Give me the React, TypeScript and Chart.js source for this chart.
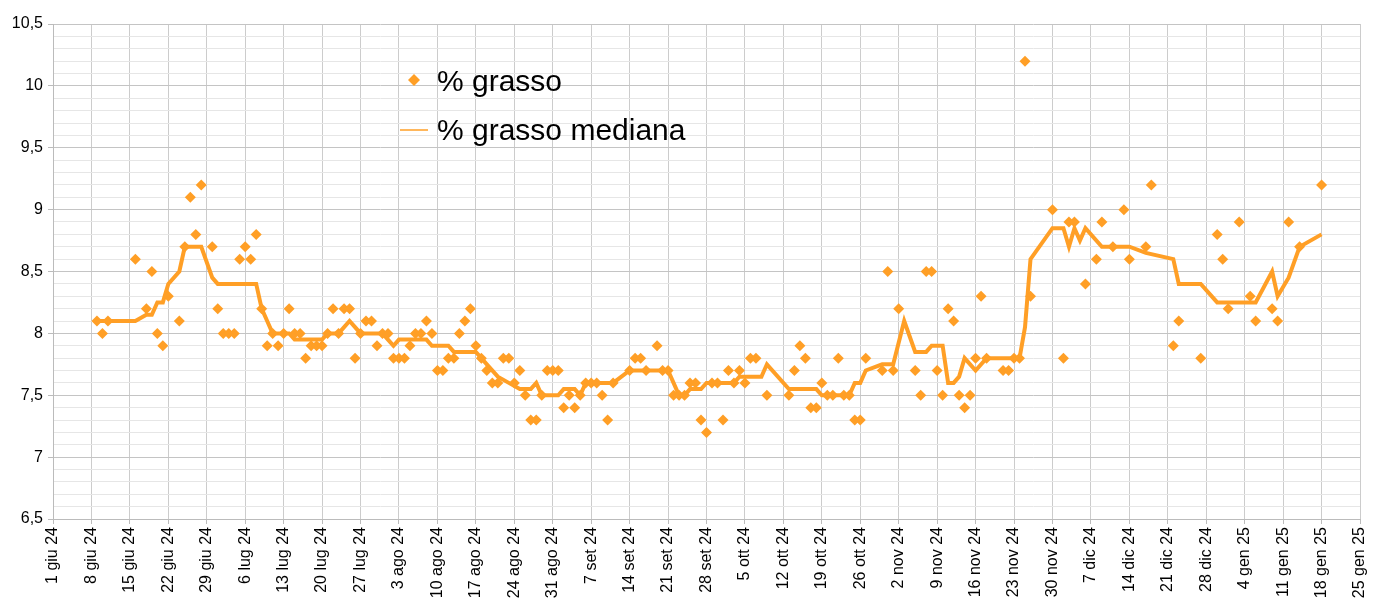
import React, { useEffect, useRef } from 'react';
import { Chart, registerables } from 'chart.js';

Chart.register(...registerables);

// ---- data ----
const startDate = '2024-06-01';
const endDate = '2025-01-25';
const monthLabels = ['gen', 'feb', 'mar', 'apr', 'mag', 'giu', 'lug', 'ago', 'set', 'ott', 'nov', 'dic'];
const seriesLabels = ['% grasso', '% grasso mediana'];

const pointDates = [
  '2024-06-09', '2024-06-10', '2024-06-11', '2024-06-16', '2024-06-18', '2024-06-19', '2024-06-20', '2024-06-21',
  '2024-06-22', '2024-06-24', '2024-06-25', '2024-06-26', '2024-06-27', '2024-06-28', '2024-06-30', '2024-07-01',
  '2024-07-02', '2024-07-03', '2024-07-04', '2024-07-05', '2024-07-06', '2024-07-07', '2024-07-08', '2024-07-09',
  '2024-07-10', '2024-07-11', '2024-07-12', '2024-07-13', '2024-07-14', '2024-07-15', '2024-07-16', '2024-07-17',
  '2024-07-18', '2024-07-19', '2024-07-20', '2024-07-21', '2024-07-22', '2024-07-23', '2024-07-24', '2024-07-25',
  '2024-07-26', '2024-07-27', '2024-07-28', '2024-07-29', '2024-07-30', '2024-07-31', '2024-08-01', '2024-08-02',
  '2024-08-03', '2024-08-04', '2024-08-05', '2024-08-06', '2024-08-07', '2024-08-08', '2024-08-09', '2024-08-10',
  '2024-08-11', '2024-08-12', '2024-08-13', '2024-08-14', '2024-08-15', '2024-08-16', '2024-08-17', '2024-08-18',
  '2024-08-19', '2024-08-20', '2024-08-21', '2024-08-22', '2024-08-23', '2024-08-24', '2024-08-25', '2024-08-26',
  '2024-08-27', '2024-08-28', '2024-08-29', '2024-08-30', '2024-08-31', '2024-09-01', '2024-09-02', '2024-09-03',
  '2024-09-04', '2024-09-05', '2024-09-06', '2024-09-07', '2024-09-08', '2024-09-09', '2024-09-10', '2024-09-11',
  '2024-09-14', '2024-09-15', '2024-09-16', '2024-09-17', '2024-09-19', '2024-09-20', '2024-09-21', '2024-09-22',
  '2024-09-23', '2024-09-24', '2024-09-25', '2024-09-26', '2024-09-27', '2024-09-28', '2024-09-29', '2024-09-30',
  '2024-10-01', '2024-10-02', '2024-10-03', '2024-10-04', '2024-10-05', '2024-10-06', '2024-10-07', '2024-10-09',
  '2024-10-13', '2024-10-14', '2024-10-15', '2024-10-16', '2024-10-17', '2024-10-18', '2024-10-19', '2024-10-20',
  '2024-10-21', '2024-10-22', '2024-10-23', '2024-10-24', '2024-10-25', '2024-10-26', '2024-10-27', '2024-10-30',
  '2024-10-31', '2024-11-01', '2024-11-02', '2024-11-05', '2024-11-06', '2024-11-07', '2024-11-08', '2024-11-09',
  '2024-11-10', '2024-11-11', '2024-11-12', '2024-11-13', '2024-11-14', '2024-11-15', '2024-11-16', '2024-11-17',
  '2024-11-18', '2024-11-21', '2024-11-22', '2024-11-23', '2024-11-24', '2024-11-25', '2024-11-26', '2024-11-30',
  '2024-12-02', '2024-12-03', '2024-12-04', '2024-12-06', '2024-12-08', '2024-12-09', '2024-12-11', '2024-12-13',
  '2024-12-14', '2024-12-17', '2024-12-18', '2024-12-22', '2024-12-23', '2024-12-27', '2024-12-30', '2024-12-31',
  '2025-01-01', '2025-01-03', '2025-01-05', '2025-01-06', '2025-01-09', '2025-01-10', '2025-01-12', '2025-01-14',
  '2025-01-18',
];

const pointValues = [
  8.1, 8.0, 8.1, 8.6, 8.2, 8.5, 8.0, 7.9,
  8.3, 8.1, 8.7, 9.1, 8.8, 9.2, 8.7, 8.2,
  8.0, 8.0, 8.0, 8.6, 8.7, 8.6, 8.8, 8.2,
  7.9, 8.0, 7.9, 8.0, 8.2, 8.0, 8.0, 7.8,
  7.9, 7.9, 7.9, 8.0, 8.2, 8.0, 8.2, 8.2,
  7.8, 8.0, 8.1, 8.1, 7.9, 8.0, 8.0, 7.8,
  7.8, 7.8, 7.9, 8.0, 8.0, 8.1, 8.0, 7.7,
  7.7, 7.8, 7.8, 8.0, 8.1, 8.2, 7.9, 7.8,
  7.7, 7.6, 7.6, 7.8, 7.8, 7.6, 7.7, 7.5,
  7.3, 7.3, 7.5, 7.7, 7.7, 7.7, 7.4, 7.5,
  7.4, 7.5, 7.6, 7.6, 7.6, 7.5, 7.3, 7.6,
  7.7, 7.8, 7.8, 7.7, 7.9, 7.7, 7.7, 7.5,
  7.5, 7.5, 7.6, 7.6, 7.3, 7.2, 7.6, 7.6,
  7.3, 7.7, 7.6, 7.7, 7.6, 7.8, 7.8, 7.5,
  7.5, 7.7, 7.9, 7.8, 7.4, 7.4, 7.6, 7.5,
  7.5, 7.8, 7.5, 7.5, 7.3, 7.3, 7.8, 7.7,
  8.5, 7.7, 8.2, 7.7, 7.5, 8.5, 8.5, 7.7,
  7.5, 8.2, 8.1, 7.5, 7.4, 7.5, 7.8, 8.3,
  7.8, 7.7, 7.7, 7.8, 7.8, 10.2, 8.3, 9.0,
  7.8, 8.9, 8.9, 8.4, 8.6, 8.9, 8.7, 9.0,
  8.6, 8.7, 9.2, 7.9, 8.1, 7.8, 8.8, 8.6,
  8.2, 8.9, 8.3, 8.1, 8.2, 8.1, 8.9, 8.7,
  9.2,
];

const medianDates = [
  '2024-06-09', '2024-06-16', '2024-06-18', '2024-06-19', '2024-06-20', '2024-06-21', '2024-06-22', '2024-06-24',
  '2024-06-25', '2024-06-28', '2024-06-30', '2024-07-01', '2024-07-08', '2024-07-09', '2024-07-10', '2024-07-11',
  '2024-07-14', '2024-07-15', '2024-07-20', '2024-07-21', '2024-07-23', '2024-07-25', '2024-07-26', '2024-07-27',
  '2024-07-31', '2024-08-01', '2024-08-02', '2024-08-03', '2024-08-08', '2024-08-09', '2024-08-12', '2024-08-13',
  '2024-08-17', '2024-08-18', '2024-08-19', '2024-08-21', '2024-08-23', '2024-08-25', '2024-08-27', '2024-08-28',
  '2024-08-29', '2024-09-01', '2024-09-02', '2024-09-04', '2024-09-05', '2024-09-06', '2024-09-10', '2024-09-11',
  '2024-09-14', '2024-09-21', '2024-09-22', '2024-09-23', '2024-09-24', '2024-09-25', '2024-09-27', '2024-09-28',
  '2024-10-03', '2024-10-04', '2024-10-08', '2024-10-09', '2024-10-13', '2024-10-18', '2024-10-19', '2024-10-24',
  '2024-10-25', '2024-10-26', '2024-10-27', '2024-10-30', '2024-11-01', '2024-11-03', '2024-11-05', '2024-11-07',
  '2024-11-08', '2024-11-10', '2024-11-11', '2024-11-12', '2024-11-13', '2024-11-14', '2024-11-16', '2024-11-18',
  '2024-11-24', '2024-11-25', '2024-11-26', '2024-11-30', '2024-12-02', '2024-12-03', '2024-12-04', '2024-12-05',
  '2024-12-06', '2024-12-09', '2024-12-14', '2024-12-17', '2024-12-22', '2024-12-23', '2024-12-27', '2024-12-30',
  '2025-01-06', '2025-01-09', '2025-01-10', '2025-01-12', '2025-01-14', '2025-01-18',
];

const medianValues = [
  8.1, 8.1, 8.15, 8.15, 8.25, 8.25, 8.4, 8.5,
  8.7, 8.7, 8.45, 8.4, 8.4, 8.2, 8.1, 8.0,
  8.0, 7.95, 7.95, 8.0, 8.0, 8.1, 8.05, 8.0,
  8.0, 7.95, 7.9, 7.95, 7.95, 7.9, 7.9, 7.85,
  7.85, 7.8, 7.75, 7.65, 7.6, 7.55, 7.55, 7.6,
  7.5, 7.5, 7.55, 7.55, 7.5, 7.6, 7.6, 7.6,
  7.7, 7.7, 7.6, 7.5, 7.5, 7.55, 7.55, 7.6,
  7.6, 7.65, 7.65, 7.75, 7.55, 7.55, 7.5, 7.5,
  7.6, 7.6, 7.7, 7.75, 7.75, 8.1, 7.85, 7.85,
  7.9, 7.9, 7.6, 7.6, 7.65, 7.8, 7.7, 7.8,
  7.8, 8.05, 8.6, 8.85, 8.85, 8.7, 8.85, 8.75,
  8.85, 8.7, 8.7, 8.65, 8.6, 8.4, 8.4, 8.25,
  8.25, 8.5, 8.3, 8.45, 8.7, 8.8,
];

const yMin = 6.5;
const yMax = 10.5;
const xStepDays = 7;
const yMinorStep = 0.1;
const yMajorStep = 0.5;

// ---- helpers ----
const DAY_MS = 86400000;
const parseIso = (iso: string) => {
  const [y, m, d] = iso.split('-').map(Number);
  return Date.UTC(y, m - 1, d);
};
const startMs = parseIso(startDate);
const toDay = (iso: string) => Math.round((parseIso(iso) - startMs) / DAY_MS);
const dayLabel = (n: number) => {
  const dt = new Date(startMs + Math.round(n) * DAY_MS);
  const yy = String(dt.getUTCFullYear() % 100).padStart(2, '0');
  return `${dt.getUTCDate()} ${monthLabels[dt.getUTCMonth()]} ${yy}`;
};
const isMajor = (v: number) => Math.round(v * 10) % Math.round(yMajorStep * 10) === 0;

const ORANGE = '#ff9f26';
const FONT_FAMILY = '"Liberation Sans", Arial, Helvetica, sans-serif';

const legendPlugin = {
  id: 'insideLegend',
  afterDatasetsDraw(chart: any) {
    const { ctx, chartArea } = chart;
    const x0 = chartArea.left + 347;
    const y0 = chartArea.top + 56;
    ctx.save();
    // diamond marker
    const cx = x0 + 14;
    const r = 6;
    ctx.fillStyle = ORANGE;
    ctx.beginPath();
    ctx.moveTo(cx, y0 - r);
    ctx.lineTo(cx + r, y0);
    ctx.lineTo(cx, y0 + r);
    ctx.lineTo(cx - r, y0);
    ctx.closePath();
    ctx.fill();
    // line sample
    ctx.strokeStyle = ORANGE;
    ctx.lineWidth = 1.5;
    ctx.beginPath();
    ctx.moveTo(x0, y0 + 50);
    ctx.lineTo(x0 + 28, y0 + 50);
    ctx.stroke();
    // labels
    ctx.fillStyle = '#000';
    ctx.font = `30px ${FONT_FAMILY}`;
    ctx.textAlign = 'left';
    ctx.textBaseline = 'alphabetic';
    ctx.fillText(seriesLabels[0], x0 + 37, y0 + 11);
    ctx.fillText(seriesLabels[1], x0 + 37, y0 + 60);
    ctx.restore();
  },
};

export default function App() {
  const canvasRef = useRef<HTMLCanvasElement | null>(null);

  useEffect(() => {
    if (!canvasRef.current) return;
    const pts = pointDates.map((d, i) => ({ x: toDay(d), y: pointValues[i] }));
    const med = medianDates.map((d, i) => ({ x: toDay(d), y: medianValues[i] }));

    const chart = new Chart(canvasRef.current, {
      type: 'line',
      data: {
        datasets: [
          {
            label: seriesLabels[1],
            data: med,
            borderColor: ORANGE,
            backgroundColor: ORANGE,
            borderWidth: 4,
            pointRadius: 0,
            tension: 0,
            fill: false,
            order: 2,
          },
          {
            label: seriesLabels[0],
            data: pts,
            showLine: false,
            pointStyle: 'rectRot',
            pointRadius: 5.5,
            pointBorderWidth: 0,
            pointBackgroundColor: ORANGE,
            pointBorderColor: ORANGE,
            borderColor: ORANGE,
            backgroundColor: ORANGE,
            order: 1,
          },
        ],
      },
      options: {
        animation: false,
        responsive: true,
        maintainAspectRatio: false,
        layout: { padding: { top: 24, right: 13, left: 0, bottom: 0 } },
        plugins: {
          legend: { display: false },
          tooltip: { enabled: false },
        },
        scales: {
          x: {
            type: 'linear',
            min: 0,
            max: toDay(endDate),
            afterFit: (scale: any) => {
              scale.height = 89;
              scale.paddingRight = 0;
              scale.paddingLeft = 0;
            },
            ticks: {
              stepSize: xStepDays,
              autoSkip: false,
              minRotation: 90,
              maxRotation: 90,
              padding: 3,
              color: '#000',
              font: { family: FONT_FAMILY, size: 16 },
              callback: (v: any) => dayLabel(Number(v)),
            },
            grid: {
              color: '#cccccc',
              lineWidth: 1,
              tickLength: 5,
              tickColor: '#bbbbbb',
            },
            border: { color: '#bbbbbb', width: 1 },
          },
          y: {
            type: 'linear',
            min: yMin,
            max: yMax,
            afterFit: (scale: any) => {
              scale.width = 53;
            },
            ticks: {
              stepSize: yMinorStep,
              autoSkip: false,
              padding: 5,
              color: '#000',
              font: { family: FONT_FAMILY, size: 16 },
              callback: (v: any) => {
                const n = Number(v);
                if (!isMajor(n)) return '';
                return String(Math.round(n * 10) / 10).replace('.', ',');
              },
            },
            grid: {
              color: (ctx: any) => (isMajor(ctx.tick?.value ?? 0) ? '#c4c4c4' : '#e6e6e6'),
              tickColor: (ctx: any) => (isMajor(ctx.tick?.value ?? 0) ? '#bbbbbb' : 'rgba(0,0,0,0)'),
              lineWidth: 1,
              tickLength: 5,
            },
            border: { color: '#bbbbbb', width: 1 },
          },
        },
      },
      plugins: [legendPlugin],
    });

    return () => chart.destroy();
  }, []);

  return (
    <div style={{ position: 'fixed', left: 0, top: 0, width: '100vw', height: '100vh', background: '#fff' }}>
      <canvas ref={canvasRef} />
    </div>
  );
}
